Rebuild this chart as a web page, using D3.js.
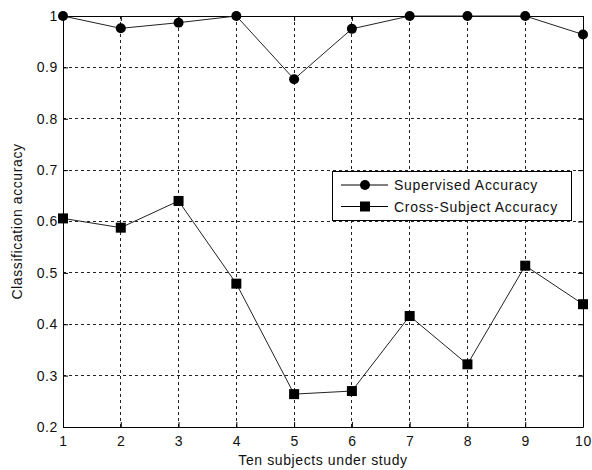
<!DOCTYPE html>
<html>
<head>
<meta charset="utf-8">
<script src="https://cdn.jsdelivr.net/npm/d3@7"></script>
<style>
  body { margin: 0; background: #fff; }
  svg { display: block; }
  text { font-family: "Liberation Sans", Arial, sans-serif; fill: #111; letter-spacing: 0.6px; }
</style>
</head>
<body>
<div id="chart"></div>
<script>
const subjects = [1, 2, 3, 4, 5, 6, 7, 8, 9, 10];
const supervised = [1.0, 0.976, 0.987, 1.0, 0.877, 0.975, 1.0, 1.0, 1.0, 0.964];
const crossSubject = [0.606, 0.588, 0.640, 0.479, 0.264, 0.270, 0.416, 0.322, 0.514, 0.439];
const yTicks = [0.2, 0.3, 0.4, 0.5, 0.6, 0.7, 0.8, 0.9, 1];

const W = 592, H = 470;
const margin = { top: 16, right: 9, bottom: 43, left: 63 };
const width = W - margin.left - margin.right;
const height = H - margin.top - margin.bottom;

const x = d3.scaleLinear().domain([1, 10]).range([0, width]);
const y = d3.scaleLinear().domain([0.2, 1]).range([height, 0]);

const svg = d3.select("#chart").append("svg")
  .attr("width", W).attr("height", H);
const g = svg.append("g").attr("transform", `translate(${margin.left},${margin.top})`);

// grid
g.append("g").selectAll("line").data(subjects.slice(1, -1)).join("line")
  .attr("x1", d => x(d)).attr("x2", d => x(d))
  .attr("y1", 0).attr("y2", height)
  .attr("stroke", "#222").attr("stroke-dasharray", "3,3").attr("shape-rendering", "crispEdges");
g.append("g").selectAll("line").data(yTicks.slice(1, -1)).join("line")
  .attr("x1", 0).attr("x2", width)
  .attr("y1", d => y(d)).attr("y2", d => y(d))
  .attr("stroke", "#222").attr("stroke-dasharray", "3,3").attr("shape-rendering", "crispEdges");

// axes (inward ticks, MATLAB style)
g.append("g").attr("transform", `translate(0,${height})`)
  .call(d3.axisBottom(x).tickValues(subjects).tickFormat(d3.format("d")).tickSizeInner(-5).tickSizeOuter(0).tickPadding(9));
g.append("g")
  .call(d3.axisLeft(y).tickValues(yTicks).tickFormat(d => d === 1 ? "1" : d3.format(".1f")(d)).tickSizeInner(-5).tickSizeOuter(0).tickPadding(5));
g.append("g")
  .call(d3.axisTop(x).tickValues(subjects).tickFormat("").tickSizeInner(-5).tickSizeOuter(0));
g.append("g").attr("transform", `translate(${width},0)`)
  .call(d3.axisRight(y).tickValues(yTicks).tickFormat("").tickSizeInner(-5).tickSizeOuter(0));
g.selectAll(".domain").attr("stroke", "#000");
g.selectAll(".tick line").attr("stroke", "#000");
g.selectAll(".tick text").attr("font-size", 14).attr("fill", "#222")
  .attr("font-family", "Liberation Sans, Arial, sans-serif");

// lines
const line = d3.line().x((d, i) => x(subjects[i])).y(d => y(d));
g.append("path").datum(supervised).attr("d", line)
  .attr("fill", "none").attr("stroke", "#222").attr("stroke-width", 1);
g.append("path").datum(crossSubject).attr("d", line)
  .attr("fill", "none").attr("stroke", "#222").attr("stroke-width", 1);

g.selectAll("circle.sup").data(supervised).join("circle").attr("class", "sup")
  .attr("cx", (d, i) => x(subjects[i])).attr("cy", d => y(d)).attr("r", 5).attr("fill", "#000");
g.selectAll("rect.cross").data(crossSubject).join("rect").attr("class", "cross")
  .attr("x", (d, i) => x(subjects[i]) - 5).attr("y", d => y(d) - 5)
  .attr("width", 10).attr("height", 10).attr("fill", "#000");

// axis titles
svg.append("text").attr("x", margin.left + width / 2).attr("y", 465)
  .attr("text-anchor", "middle").attr("font-size", 14).text("Ten subjects under study");
svg.append("text").attr("transform", `translate(22,${margin.top + height / 2}) rotate(-90)`)
  .attr("text-anchor", "middle").attr("font-size", 14).text("Classification accuracy");

// legend
const legend = svg.append("g").attr("transform", "translate(332,171)");
legend.append("rect").attr("width", 239).attr("height", 49)
  .attr("fill", "#fff").attr("stroke", "#000").attr("shape-rendering", "crispEdges");
const items = [
  { label: "Supervised Accuracy", marker: "circle" },
  { label: "Cross-Subject Accuracy", marker: "square" }
];
items.forEach((it, i) => {
  const yy = 14 + i * 21.5;
  legend.append("line").attr("x1", 9).attr("x2", 56).attr("y1", yy).attr("y2", yy).attr("stroke", "#000");
  if (it.marker === "circle") {
    legend.append("circle").attr("cx", 33).attr("cy", yy).attr("r", 5).attr("fill", "#000");
  } else {
    legend.append("rect").attr("x", 28).attr("y", yy - 5).attr("width", 10).attr("height", 10).attr("fill", "#000");
  }
  legend.append("text").attr("x", 62).attr("y", yy + 5).attr("font-size", 14).style("letter-spacing", "0.7px").text(it.label);
});
</script>
</body>
</html>
